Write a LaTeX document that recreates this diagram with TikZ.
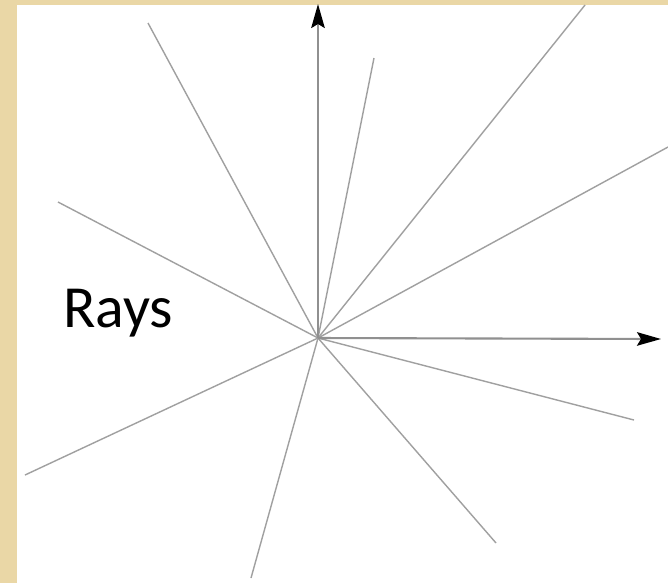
\documentclass[tikz,border=0pt]{standalone}
\usepackage{fontspec}
\setmainfont{Carlito}
\usetikzlibrary{arrows.meta}
\definecolor{frame}{HTML}{EAD7A6}
\definecolor{raygray}{HTML}{A0A0A0}
\definecolor{axisgray}{HTML}{909090}

\begin{document}
\begin{tikzpicture}[x=0.02cm, y=-0.02cm, >={Stealth[length=0.48cm, width=0.27cm, inset=0.08cm, color=black]},
  ray/.style={draw=raygray, line width=0.8pt},
  axis/.style={draw=axisgray, line width=1.2pt, ->}]
  % background and frame
  \fill[frame] (0,0) rectangle (668,583);
  \fill[white] (17,5) rectangle (668,583);
  \useasboundingbox (0,0) rectangle (668,583);

  \coordinate (o) at (318,338);
  % ray ends
  \coordinate (r1) at (148,23);
  \coordinate (r2) at (374,58);
  \coordinate (r3) at (585,5);
  \coordinate (r4) at (668,147);
  \coordinate (r5) at (58,202);
  \coordinate (r6) at (25,475);
  \coordinate (r7) at (251,578);
  \coordinate (r8) at (496,543);
  \coordinate (r9) at (634,420);
  \coordinate (ytip) at (318,4);
  \coordinate (xtip) at (661,339);

  \foreach \e in {r1,r2,r3,r4,r5,r6,r7,r8,r9}
    \draw[ray] (o) -- (\e);
  \draw[axis] (o) -- (ytip);
  \draw[axis] (o) -- (xtip);

  \node[anchor=base west, inner sep=0pt, font=\fontsize{34}{40}\selectfont] (label) at (63,327) {Rays};
\end{tikzpicture}
\end{document}
